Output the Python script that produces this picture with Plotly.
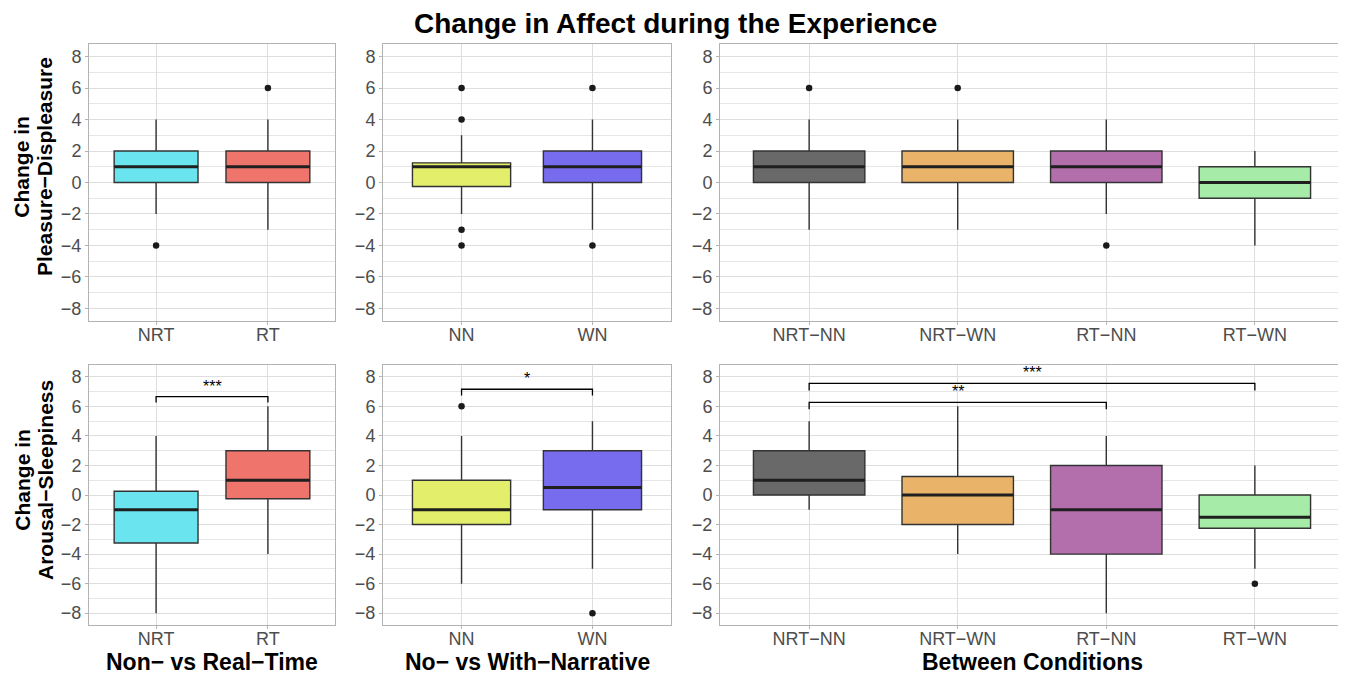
import plotly.graph_objects as go

# ---------------- data ----------------
cats_time = ["NRT", "RT"]
cats_narr = ["NN", "WN"]
cats_cond = ["NRT−NN", "NRT−WN", "RT−NN", "RT−WN"]

colors_time = ["#6AE4EE", "#EF756C"]
colors_narr = ["#E3EF6A", "#776BEE"]
colors_cond = ["#696969", "#E9B36A", "#B26FAC", "#A6EBA8"]

# Change in Pleasure-Displeasure
pl_time_q1 = [0, 0]
pl_time_med = [1, 1]
pl_time_q3 = [2, 2]
pl_time_lo = [-2, -3]
pl_time_hi = [4, 4]
pl_time_out = [[-4], [6]]

pl_narr_q1 = [-0.25, 0]
pl_narr_med = [1, 1]
pl_narr_q3 = [1.25, 2]
pl_narr_lo = [-2, -3]
pl_narr_hi = [3, 4]
pl_narr_out = [[6, 4, -3, -4], [6, -4]]

pl_cond_q1 = [0, 0, 0, -1]
pl_cond_med = [1, 1, 1, 0]
pl_cond_q3 = [2, 2, 2, 1]
pl_cond_lo = [-3, -3, -2, -4]
pl_cond_hi = [4, 4, 4, 2]
pl_cond_out = [[6], [6], [-4], []]

# Change in Arousal-Sleepiness
ar_time_q1 = [-3.25, -0.25]
ar_time_med = [-1, 1]
ar_time_q3 = [0.25, 3]
ar_time_lo = [-8, -4]
ar_time_hi = [4, 6]
ar_time_out = [[], []]

ar_narr_q1 = [-2, -1]
ar_narr_med = [-1, 0.5]
ar_narr_q3 = [1, 3]
ar_narr_lo = [-6, -5]
ar_narr_hi = [4, 5]
ar_narr_out = [[6], [-8]]

ar_cond_q1 = [0, -2, -4, -2.25]
ar_cond_med = [1, 0, -1, -1.5]
ar_cond_q3 = [3, 1.25, 2, 0]
ar_cond_lo = [-1, -4, -8, -5]
ar_cond_hi = [5, 6, 4, 2]
ar_cond_out = [[], [], [], [-6]]

# significance brackets: (from, to, label, bracket height, tip end)
ar_time_sig = [("NRT", "RT", "***", 6.66, 6.26)]
ar_narr_sig = [("NN", "WN", "*", 7.16, 6.73)]
ar_cond_sig = [("NRT−NN", "RT−NN", "**", 6.27, 5.8),
               ("NRT−NN", "RT−WN", "***", 7.55, 7.08)]

x_titles = ["Non− vs Real−Time", "No− vs With−Narrative", "Between Conditions"]
title_text = "Change in Affect during the Experience"

# ---------------- layout helpers ----------------
PW, PH = 1346, 675          # screenshot size
OX, OY = 8, 8               # page body margin
W, H = PW - OX, PH - OY     # figure size
FONT = "Liberation Sans, Arial, sans-serif"
X_DOMS = [(89, 335), (383, 671), (720, 1344)]
Y_DOMS = [(44, 321), (365, 625)]


def px(x):
    return (x - OX) / W


def py(y):
    return 1 - (y - OY) / H


panels = [
    (0, 0, cats_time, colors_time, pl_time_q1, pl_time_med, pl_time_q3, pl_time_lo, pl_time_hi, pl_time_out, []),
    (0, 1, cats_narr, colors_narr, pl_narr_q1, pl_narr_med, pl_narr_q3, pl_narr_lo, pl_narr_hi, pl_narr_out, []),
    (0, 2, cats_cond, colors_cond, pl_cond_q1, pl_cond_med, pl_cond_q3, pl_cond_lo, pl_cond_hi, pl_cond_out, []),
    (1, 0, cats_time, colors_time, ar_time_q1, ar_time_med, ar_time_q3, ar_time_lo, ar_time_hi, ar_time_out, ar_time_sig),
    (1, 1, cats_narr, colors_narr, ar_narr_q1, ar_narr_med, ar_narr_q3, ar_narr_lo, ar_narr_hi, ar_narr_out, ar_narr_sig),
    (1, 2, cats_cond, colors_cond, ar_cond_q1, ar_cond_med, ar_cond_q3, ar_cond_lo, ar_cond_hi, ar_cond_out, ar_cond_sig),
]

fig = go.Figure()
annotations = []
layout_axes = {}

for i, (row, col, cats, cols, q1, med, q3, lo, hi, outs, sigs) in enumerate(panels):
    n = i + 1
    xa = "x" if n == 1 else f"x{n}"
    ya = "y" if n == 1 else f"y{n}"
    for j, c in enumerate(cats):
        fig.add_trace(go.Box(
            x=[c], q1=[q1[j]], median=[med[j]], q3=[q3[j]],
            lowerfence=[lo[j]], upperfence=[hi[j]],
            boxpoints=False, width=0.75, whiskerwidth=0,
            fillcolor=cols[j], line=dict(color="#333333", width=1.4),
            xaxis=xa, yaxis=ya, showlegend=False, hoverinfo="skip"))
        # thicker median line
        fig.add_trace(go.Box(
            x=[c], q1=[med[j]], median=[med[j]], q3=[med[j]],
            lowerfence=[med[j]], upperfence=[med[j]],
            boxpoints=False, width=0.75, whiskerwidth=0,
            fillcolor="rgba(0,0,0,0)", line=dict(color="#1F1F1F", width=3),
            xaxis=xa, yaxis=ya, showlegend=False, hoverinfo="skip"))
        if outs[j]:
            fig.add_trace(go.Scatter(
                x=[c] * len(outs[j]), y=outs[j], mode="markers",
                marker=dict(color="#1A1A1A", size=6.5),
                xaxis=xa, yaxis=ya, showlegend=False, hoverinfo="skip"))
    for (a, b, lab, top, tip) in sigs:
        fig.add_trace(go.Scatter(
            x=[a, a, b, b], y=[tip, top, top, tip], mode="lines",
            line=dict(color="#000000", width=1.3),
            xaxis=xa, yaxis=ya, showlegend=False, hoverinfo="skip"))
        annotations.append(dict(
            x=(cats.index(a) + cats.index(b)) / 2, y=top, xref=xa, yref=ya,
            text=lab, showarrow=False, yanchor="bottom", yshift=0,
            font=dict(family=FONT, size=16, color="#000000")))

    x0, x1 = X_DOMS[col]
    y0, y1 = Y_DOMS[row]
    xkey = "xaxis" if n == 1 else f"xaxis{n}"
    ykey = "yaxis" if n == 1 else f"yaxis{n}"
    xax = dict(
        domain=[px(x0), px(x1)], anchor=ya, type="category",
        categoryorder="array", categoryarray=cats,
        range=[-0.6, len(cats) - 1 + 0.6],
        showgrid=True, gridcolor="#DEDEDE", gridwidth=1.2,
        showline=True, mirror=True, linecolor="#B3B3B3", linewidth=1,
        ticks="outside", ticklen=3, tickcolor="#B3B3B3", tickwidth=1,
        ticklabelstandoff=-6,
        tickfont=dict(family=FONT, size=18, color="#4D4D4D"),
        zeroline=False, fixedrange=True)
    yax = dict(
        domain=[py(y1), py(y0)], anchor=xa,
        range=[-8.8, 8.8], tick0=0, dtick=2,
        showgrid=True, gridcolor="#DEDEDE", gridwidth=1.2,
        minor=dict(dtick=1, showgrid=True, gridcolor="#E6E6E6", gridwidth=0.8),
        showline=True, mirror=True, linecolor="#B3B3B3", linewidth=1,
        ticks="outside", ticklen=3, tickcolor="#B3B3B3", tickwidth=1,
        tickfont=dict(family=FONT, size=18, color="#4D4D4D"),
        zeroline=False, fixedrange=True)
    layout_axes[xkey] = xax
    layout_axes[ykey] = yax
    if row == 1:
        annotations.append(dict(
            x=px((x0 + x1) / 2), y=py(662), xref="paper", yref="paper",
            text=x_titles[col], showarrow=False,
            xanchor="center", yanchor="middle",
            font=dict(family=FONT, size=23, color="#000000", weight="bold")))

# y-axis titles (two lines each)
ytitles = [(["Change in", "Pleasure−Displeasure"], 167),
           (["Change in", "Arousal−Sleepiness"], 480)]
for lines, yc in ytitles:
    for k, txt in enumerate(lines):
        annotations.append(dict(
            x=px(21.7 + 23.3 * k), y=py(yc), xref="paper", yref="paper",
            text=txt, textangle=-90, showarrow=False,
            xanchor="center", yanchor="middle",
            font=dict(family=FONT, size=21, color="#000000", weight="bold")))

# main title
annotations.append(dict(
    x=px(675), y=py(24), xref="paper", yref="paper",
    text=title_text, showarrow=False, xanchor="center", yanchor="middle",
    font=dict(family=FONT, size=28, color="#000000", weight="bold")))

fig.update_layout(
    width=W, height=H, autosize=False,
    margin=dict(l=0, r=0, t=0, b=0),
    paper_bgcolor="white", plot_bgcolor="white",
    boxmode="overlay",
    annotations=annotations,
    showlegend=False,
    **layout_axes)

fig.write_html("out.html")
